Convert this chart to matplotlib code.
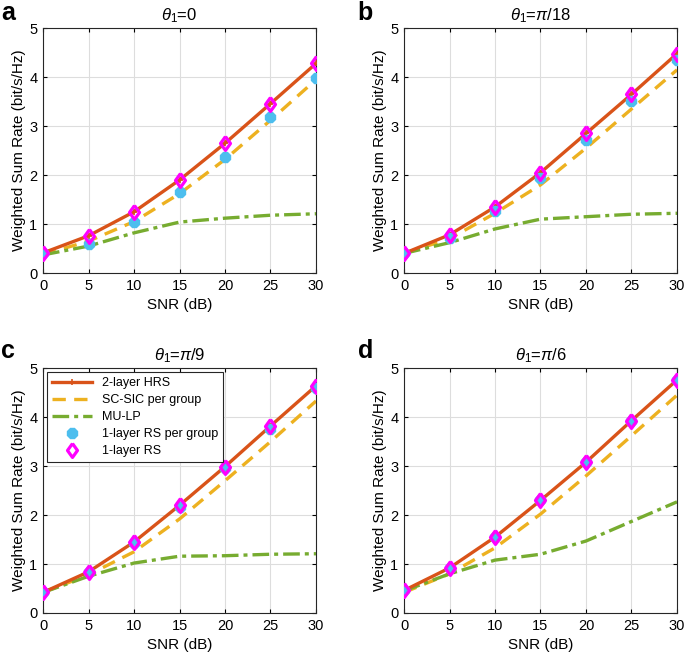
import numpy as np
import matplotlib.pyplot as plt

plt.rcParams['font.family'] = ['Liberation Sans', 'DejaVu Sans']
plt.rcParams['mathtext.fontset'] = 'custom'
plt.rcParams['mathtext.it'] = 'Liberation Sans:italic'
plt.rcParams['mathtext.rm'] = 'Liberation Sans'

# SNR axis
snr = [0, 5, 10, 15, 20, 25, 30]

titles = [r'$\theta_1$=0', r'$\theta_1$=$\pi$/18', r'$\theta_1$=$\pi$/9', r'$\theta_1$=$\pi$/6']
letters = ['a', 'b', 'c', 'd']

# 2-layer HRS
hrs_a = [0.41, 0.76, 1.25, 1.90, 2.65, 3.46, 4.28]
hrs_b = [0.40, 0.78, 1.35, 2.05, 2.85, 3.65, 4.48]
hrs_c = [0.42, 0.84, 1.45, 2.20, 2.99, 3.82, 4.64]
hrs_d = [0.46, 0.92, 1.55, 2.30, 3.08, 3.93, 4.76]

# SC-SIC per group
sic_a = [0.38, 0.65, 1.05, 1.62, 2.32, 3.12, 3.95]
sic_b = [0.40, 0.70, 1.22, 1.80, 2.55, 3.35, 4.15]
sic_c = [0.42, 0.78, 1.25, 1.92, 2.70, 3.50, 4.33]
sic_d = [0.42, 0.80, 1.33, 2.02, 2.80, 3.62, 4.45]

# MU-LP
mulp_a = [0.37, 0.55, 0.82, 1.04, 1.12, 1.18, 1.21]
mulp_b = [0.40, 0.62, 0.90, 1.10, 1.15, 1.20, 1.22]
mulp_c = [0.42, 0.75, 1.02, 1.16, 1.17, 1.20, 1.21]
mulp_d = [0.45, 0.80, 1.08, 1.20, 1.47, 1.87, 2.27]

# 1-layer RS per group
rsg_a = [0.40, 0.60, 1.05, 1.65, 2.37, 3.18, 3.99]
rsg_b = [0.40, 0.72, 1.27, 1.95, 2.72, 3.52, 4.35]
rsg_c = [0.42, 0.83, 1.43, 2.17, 2.97, 3.75, 4.60]
rsg_d = [0.46, 0.92, 1.55, 2.30, 3.08, 3.93, 4.76]

# 1-layer RS
rs_a = [0.41, 0.76, 1.25, 1.90, 2.65, 3.46, 4.28]
rs_b = [0.40, 0.78, 1.35, 2.05, 2.85, 3.65, 4.48]
rs_c = [0.42, 0.84, 1.45, 2.20, 2.99, 3.82, 4.64]
rs_d = [0.46, 0.92, 1.55, 2.30, 3.08, 3.93, 4.76]

hrs = [hrs_a, hrs_b, hrs_c, hrs_d]
sic = [sic_a, sic_b, sic_c, sic_d]
mulp = [mulp_a, mulp_b, mulp_c, mulp_d]
rsg = [rsg_a, rsg_b, rsg_c, rsg_d]
rs = [rs_a, rs_b, rs_c, rs_d]

# MATLAB-like diamond (taller than wide)
diamond = [(0, 1), (0.72, 0), (0, -1), (-0.72, 0), (0, 1)]

fig = plt.figure(figsize=(6.85, 6.58), dpi=100)

lefts = [0.0628, 0.5898, 0.0628, 0.5898]
bottoms = [0.5851, 0.5851, 0.0684, 0.0684]
w, h = 0.3985, 0.372
letter_x = [0.002, 0.522, 0.002, 0.522]
letter_y = [0.9696, 0.9696, 0.456, 0.456]

for i in range(4):
    ax = fig.add_axes([lefts[i], bottoms[i], w, h])
    ax.plot(snr, hrs[i], color='#D95319', lw=2.4, marker='+', ms=5, mew=1.2,
            label='2-layer HRS', zorder=3)
    ax.plot(snr, sic[i], color='#EDB120', lw=2.4, ls=(0, (4, 2.5)),
            label='SC-SIC per group', zorder=2)
    ax.plot(snr, mulp[i], color='#77AC30', lw=2.4, ls=(0, (5, 1.5, 1.2, 1.5)),
            label='MU-LP', zorder=2)
    ax.plot(snr, rsg[i], ls='none', marker='8', ms=7.5, color='#4DBEEE',
            label='1-layer RS per group', zorder=4)
    ax.plot(snr, rs[i], ls='none', marker=diamond, ms=10, mfc='none', mec='#FF00FF',
            mew=2.3, label='1-layer RS', zorder=5)

    ax.set_xlim(0, 30)
    ax.set_ylim(0, 5)
    ax.set_xticks(snr)
    ax.set_yticks([0, 1, 2, 3, 4, 5])
    ax.grid(True, color='#DDDDDD', lw=0.8)
    ax.set_axisbelow(True)
    ax.tick_params(direction='in', labelsize=10.5, length=3, top=True, right=True, pad=4)
    for s in ax.spines.values():
        s.set_color('#262626')
        s.set_linewidth(0.8)
    ax.set_xlabel('SNR (dB)', fontsize=11)
    ax.set_ylabel('Weighted Sum Rate (bit/s/Hz)', fontsize=11, labelpad=2)
    ax.set_title(titles[i], fontsize=12, pad=6)
    fig.text(letter_x[i], letter_y[i], letters[i], fontsize=18,
             fontweight='bold', va='baseline', ha='left')

    if i == 2:
        leg = ax.legend(loc='upper left', fontsize=9, fancybox=False,
                        framealpha=1, edgecolor='#262626', borderaxespad=0.3,
                        handlelength=3.2, labelspacing=0.4)
        leg.get_frame().set_linewidth(0.8)

fig.savefig('out.png', dpi=100)
